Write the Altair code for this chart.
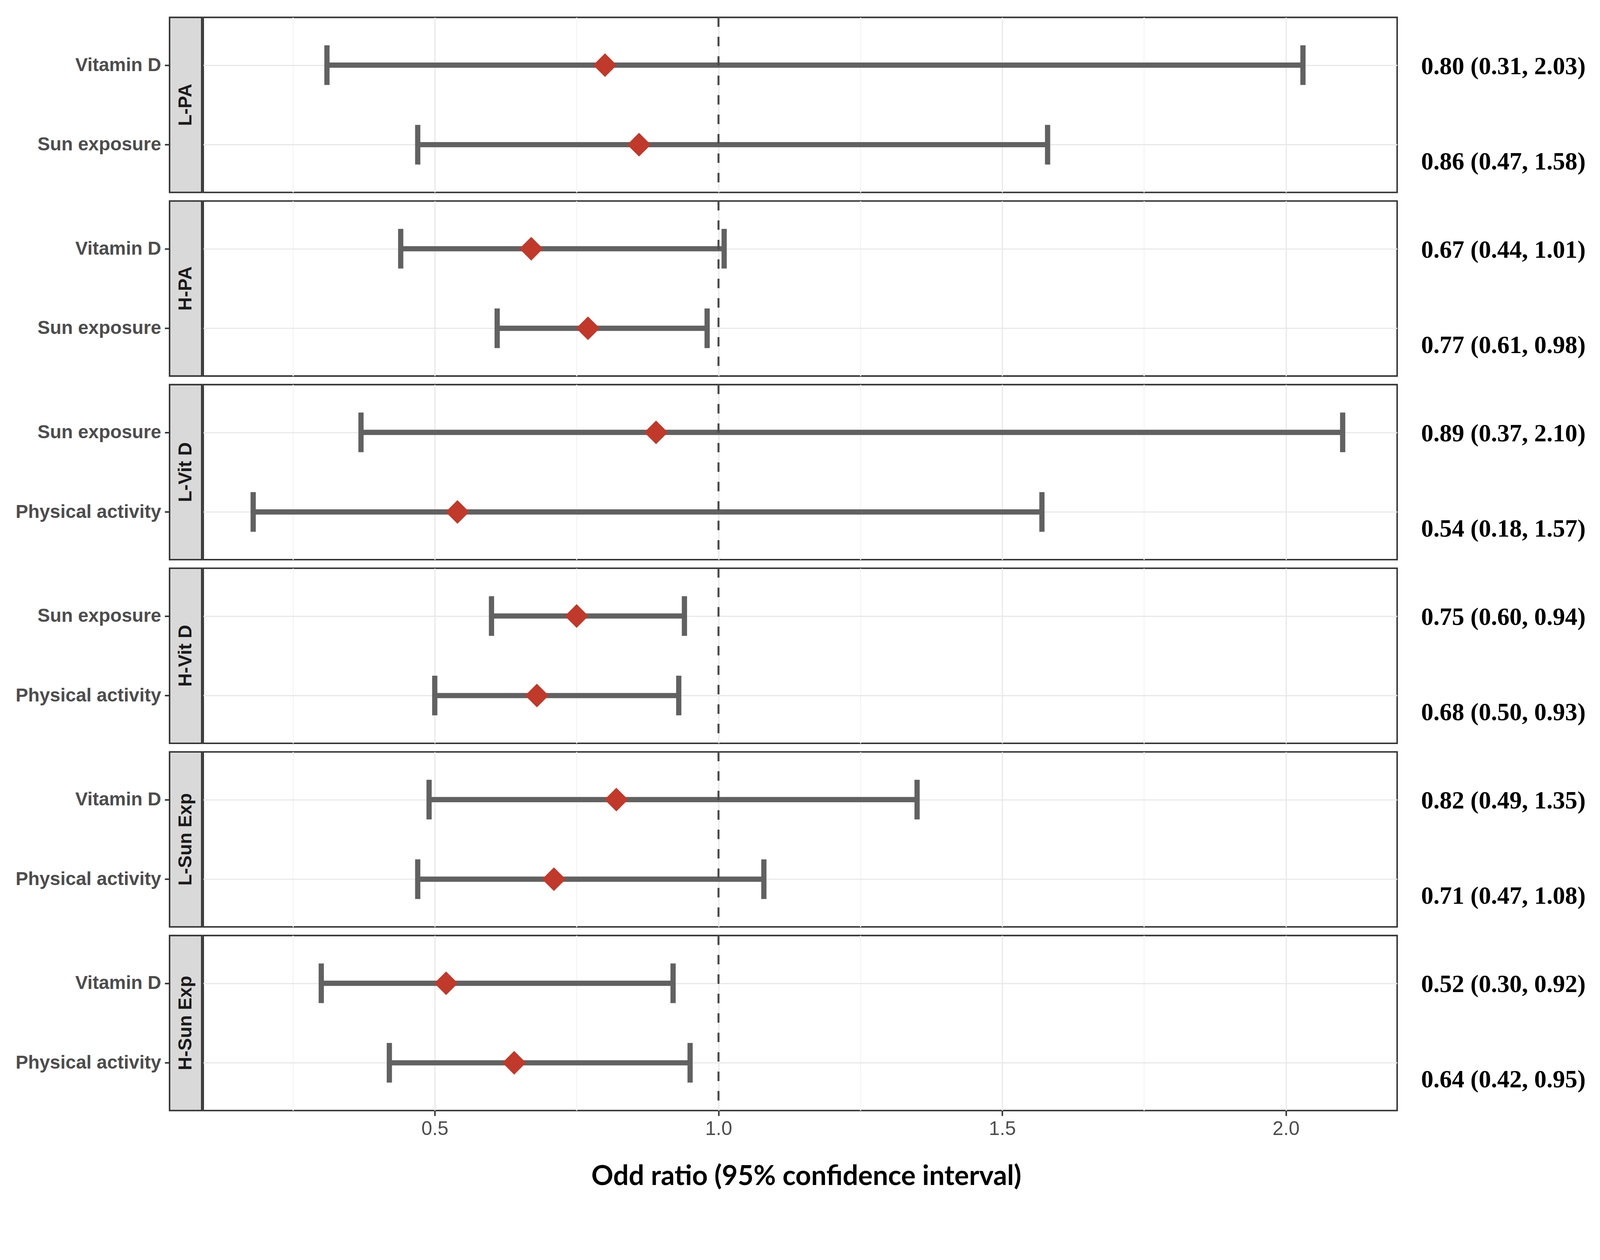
import altair as alt
import pandas as pd

# ---------------- data ----------------
panel_order = ["L-PA", "H-PA", "L-Vit D", "H-Vit D", "L-Sun Exp", "H-Sun Exp"]
panels = ["L-PA", "L-PA", "H-PA", "H-PA", "L-Vit D", "L-Vit D",
          "H-Vit D", "H-Vit D", "L-Sun Exp", "L-Sun Exp", "H-Sun Exp", "H-Sun Exp"]
items = ["Vitamin D", "Sun exposure", "Vitamin D", "Sun exposure",
         "Sun exposure", "Physical activity", "Sun exposure", "Physical activity",
         "Vitamin D", "Physical activity", "Vitamin D", "Physical activity"]
odds = [0.80, 0.86, 0.67, 0.77, 0.89, 0.54, 0.75, 0.68, 0.82, 0.71, 0.52, 0.64]
lower = [0.31, 0.47, 0.44, 0.61, 0.37, 0.18, 0.60, 0.50, 0.49, 0.47, 0.30, 0.42]
upper = [2.03, 1.58, 1.01, 0.98, 2.10, 1.57, 0.94, 0.93, 1.35, 1.08, 0.92, 0.95]
rank = [0, 1] * 6
grid_values = [0.25, 0.5, 0.75, 1.0, 1.25, 1.5, 1.75, 2.0]
x_limits = [0.092, 2.196]          # axis limits
ref_value = 1.0
x_title = "Odd ratio (95% confidence interval)"

df = pd.DataFrame({
    "panel": panels, "item": items, "or": odds, "lo": lower, "hi": upper, "rank": rank,
})
df["label"] = [f"{o:.2f} ({l:.2f}, {h:.2f})" for o, l, h in zip(odds, lower, upper)]
df["ref"] = ref_value

# ---------------- style ----------------
PANEL_H = 468
MAIN_W = 3192
STRIP_W = 86
TEXT_W = 520
GAP = 23
BORDER = "#333333"
BAR = "#616161"
RED = "#c0392b"
SANS = "Liberation Sans, Arial, sans-serif"

y_sort = alt.EncodingSortField(field="rank", op="min")
y_scale = alt.Scale(type="point", padding=0.6)

x_scale = alt.Scale(domain=x_limits, nice=False, zero=False)
x_axis = alt.Axis(
    values=grid_values,
    labelExpr="datum.value % 0.5 == 0 ? format(datum.value, '.1f') : ''",
    gridColor={"condition": {"test": "datum.value % 0.5 != 0", "value": "#f5f5f5"},
               "value": "#e8e8e8"},
    gridWidth=3,
    tickOpacity={"condition": {"test": "datum.value % 0.5 != 0", "value": 0}, "value": 1},
    tickColor=BORDER, tickWidth=4, tickSize=14,
    domain=False,
    labelFont=SANS, labelFontSize=52, labelColor="#4d4d4d", labelPadding=10,
    title=x_title, titleFont="Lato", titleFontSize=73, titleFontWeight="bold",
    titleColor="#000000", titlePadding=66, titleX=MAIN_W / 2 + 16,
)


def row_facet():
    return alt.Row("panel:N", sort=panel_order, title=None,
                   header=alt.Header(labels=False))


# ---------------- main panels ----------------
base = alt.Chart().encode(
    y=alt.Y("item:N", sort=y_sort, scale=y_scale,
            axis=alt.Axis(labels=False, ticks=False, domain=False, title=None,
                          grid=True, gridColor="#e8e8e8", gridWidth=3)),
)

bars = base.mark_rule(color=BAR, strokeWidth=14).encode(
    x=alt.X("lo:Q", scale=x_scale, axis=x_axis), x2="hi:Q")
cap_lo = base.mark_tick(color=BAR, thickness=14, size=106, opacity=1).encode(x="lo:Q")
cap_hi = base.mark_tick(color=BAR, thickness=14, size=106, opacity=1).encode(x="hi:Q")
ref = alt.Chart().mark_rule(color="#4a4a4a", strokeWidth=5, strokeDash=[25, 27]).encode(
    x="ref:Q")
pts = base.mark_point(shape="diamond", filled=True, size=4000, color=RED, opacity=1).encode(
    x="or:Q")

main_layer = alt.layer(bars, cap_lo, cap_hi, ref, pts).properties(
    width=MAIN_W, height=PANEL_H,
    view=alt.ViewBackground(fill="white", stroke=BORDER, strokeWidth=4),
)
main = alt.FacetChart(
    data=df, spec=main_layer,
    facet=alt.FacetMapping(row=row_facet()),
    spacing=GAP, bounds="flush",
).resolve_scale(y="independent")

# ---------------- strip (left) ----------------
strip_axis = base.mark_point(opacity=0).encode(
    x=alt.value(0),
    y=alt.Y("item:N", sort=y_sort, scale=y_scale,
            axis=alt.Axis(title=None, grid=False, domain=False, tickColor=BORDER,
                          tickWidth=4, tickSize=13, labelPadding=10, labelLimit=1000,
                          labelFont=SANS, labelFontSize=50, labelFontWeight="bold",
                          labelColor="#4d4d4d")),
)
strip_text = alt.Chart().transform_filter("datum.rank == 0").mark_text(
    angle=270, font=SANS, fontSize=50, fontWeight="bold", color="#1a1a1a",
    align="center", baseline="middle",
).encode(text="panel:N", x=alt.value(STRIP_W / 2), y=alt.value(PANEL_H / 2))

strip_layer = alt.layer(strip_axis, strip_text).properties(
    width=STRIP_W, height=PANEL_H,
    view=alt.ViewBackground(fill="#d9d9d9", stroke=BORDER, strokeWidth=4),
)
strip = alt.FacetChart(
    data=df, spec=strip_layer,
    facet=alt.FacetMapping(row=row_facet()),
    spacing=GAP, bounds="flush",
).resolve_scale(y="independent")

# ---------------- value labels (right) ----------------
tbase = alt.Chart().encode(
    y=alt.Y("item:N", sort=y_sort, scale=y_scale, axis=None),
    x=alt.value(61),
    text="label:N",
)
t0 = tbase.transform_filter("datum.rank == 0").mark_text(
    font="Liberation Serif, Cambria, serif", fontSize=66, fontWeight="bold",
    color="#000000", align="left", baseline="middle", dy=4)
t1 = tbase.transform_filter("datum.rank == 1").mark_text(
    font="Liberation Serif, Cambria, serif", fontSize=66, fontWeight="bold",
    color="#000000", align="left", baseline="middle", dy=46)
text_layer = alt.layer(t0, t1).properties(
    width=TEXT_W, height=PANEL_H,
    view=alt.ViewBackground(fill="white", stroke="transparent"),
)
texts = alt.FacetChart(
    data=df, spec=text_layer,
    facet=alt.FacetMapping(row=row_facet()),
    spacing=GAP, bounds="flush",
).resolve_scale(y="independent")

chart = alt.hconcat(strip, main, texts, spacing=0).properties(
    padding={"left": 30, "top": -36, "right": 10, "bottom": 10},
    background="white",
).configure_view(stroke="transparent").configure_header(labels=False)

chart.save("out.html", embed_options={"renderer": "svg", "actions": False})
